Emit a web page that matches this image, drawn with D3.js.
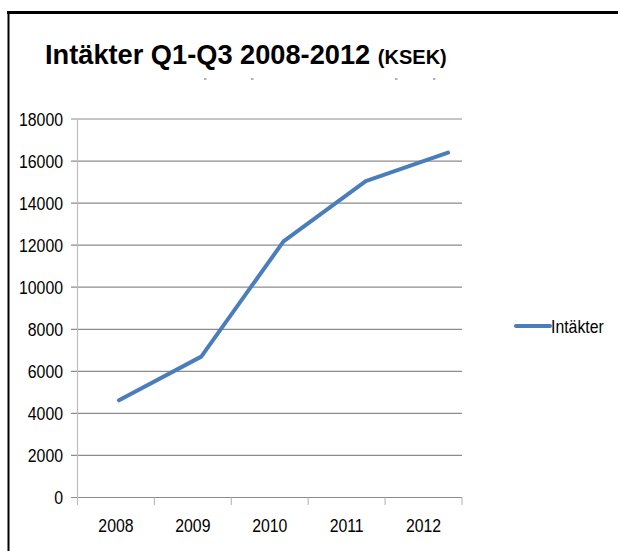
<!DOCTYPE html>
<html><head><meta charset="utf-8">
<script src="https://cdn.jsdelivr.net/npm/d3@7"></script>
<style>body{margin:0;background:#fff}svg{display:block}</style>
</head><body>
<svg id="c" width="618" height="551"></svg>
<script>
const years = ["2008","2009","2010","2011","2012"];
const intakter = [4620, 6700, 12180, 15050, 16400];
const yTicks = [0,2000,4000,6000,8000,10000,12000,14000,16000,18000];
const seriesName = "Intäkter";

const svg = d3.select("#c");
const font = "'Liberation Sans', Arial, sans-serif";
const sx = 0.88;

// frame
svg.append("line").attr("x1",7).attr("x2",618).attr("y1",12.5).attr("y2",12.5).attr("stroke","#000").attr("stroke-width",3);
svg.append("line").attr("x1",8.5).attr("x2",8.5).attr("y1",11).attr("y2",551).attr("stroke","#000").attr("stroke-width",2);

// title
const title = svg.append("text").attr("transform","translate(45,64) scale(0.955,1)")
  .attr("font-family",font).attr("font-weight","bold").attr("font-size",28.5).attr("fill","#000");
title.append("tspan").text("Intäkter Q1-Q3 2008-2012 ");
title.append("tspan").attr("font-size",21).text("(KSEK)");

// faint remnants under title
[204,251,395,433].forEach(x=>svg.append("rect").attr("x",x).attr("y",78.5).attr("width",2.5).attr("height",1).attr("fill","#666"));

const y = d3.scaleLinear().domain([0,18000]).range([497.5,119]);
const xb = d3.scaleBand().domain(years).range([77.5,462]);
const xl = d3.scalePoint().domain(years).range([119,448]);

// gridlines
svg.append("g").selectAll("line").data(yTicks).join("line")
  .attr("x1",71).attr("x2",462).attr("y1",d=>y(d)).attr("y2",d=>y(d))
  .attr("stroke","#8c8c8c").attr("stroke-width",1.2);
// y axis line
svg.append("line").attr("x1",77.5).attr("x2",77.5).attr("y1",119).attr("y2",505).attr("stroke","#bdbdbd").attr("stroke-width",1.2);
// x ticks
const bounds = years.map(d=>xb(d)).concat([xb.range()[1]]);
svg.append("g").selectAll("line").data(bounds.slice(1)).join("line")
  .attr("x1",d=>d).attr("x2",d=>d).attr("y1",497.5).attr("y2",505)
  .attr("stroke","#bdbdbd").attr("stroke-width",1.2);

// y labels
svg.append("g").selectAll("text").data(yTicks).join("text")
  .attr("transform",d=>`translate(63,${y(d)+6.5}) scale(${sx},1)`).attr("text-anchor","end")
  .attr("font-family",font).attr("font-size",18).attr("fill","#000").text(d=>d);
// x labels
svg.append("g").selectAll("text").data(years).join("text")
  .attr("transform",d=>`translate(${xb(d)+xb.bandwidth()/2},532) scale(${sx},1)`).attr("text-anchor","middle")
  .attr("font-family",font).attr("font-size",18).attr("fill","#000").text(d=>d);

// series line
const line = d3.line().x((d,i)=>xl(years[i])).y(d=>y(d));
svg.append("path").datum(intakter).attr("d",line).attr("fill","none")
  .attr("stroke","#4a7ebb").attr("stroke-width",4).attr("stroke-linejoin","round").attr("stroke-linecap","round");

// legend
svg.append("line").attr("x1",516).attr("x2",550).attr("y1",326).attr("y2",326)
  .attr("stroke","#4a7ebb").attr("stroke-width",4).attr("stroke-linecap","round");
svg.append("text").attr("transform",`translate(551,332.5) scale(${sx},1)`).attr("font-family",font).attr("font-size",18)
  .attr("fill","#000").text(seriesName);
</script>
</body></html>
